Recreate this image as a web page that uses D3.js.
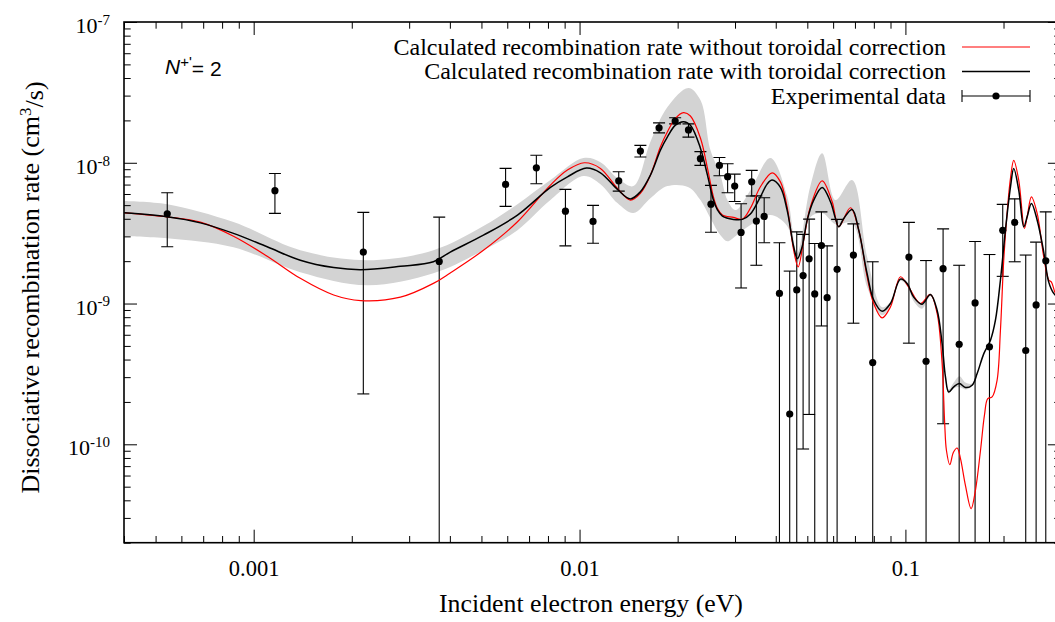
<!DOCTYPE html>
<html>
<head>
<meta charset="utf-8">
<script src="https://cdn.jsdelivr.net/npm/d3@7"></script>
<style>
  html, body { margin: 0; padding: 0; background: #fff; }
  svg text { font-family: "Liberation Serif", "Times New Roman", serif; fill: #000; }
</style>
</head>
<body>
<svg id="chart" width="1055" height="622"></svg>
<script>
// ---------------- data ----------------
// Calculated rate with toroidal correction (black)
const blackE = [0.000401, 0.000543, 0.000686, 0.000867, 0.0011, 0.00139, 0.00176, 0.00213, 0.00282, 0.00356,
  0.00401, 0.00507, 0.00645, 0.00814, 0.00918, 0.0105, 0.01159, 0.01307, 0.01432, 0.01537,
  0.0165, 0.01771, 0.01861, 0.01969, 0.02084, 0.02189, 0.02349, 0.02469, 0.02575, 0.02649,
  0.02744, 0.02966, 0.0316, 0.03344, 0.03589, 0.03764, 0.03899, 0.04134, 0.04335, 0.04541,
  0.04662, 0.0482, 0.04994, 0.05232, 0.05553, 0.05888, 0.061, 0.06243, 0.06468, 0.06862,
  0.0719, 0.07629, 0.07993, 0.08482, 0.08995, 0.09654, 0.1012, 0.106, 0.1125, 0.1193,
  0.1251, 0.1296, 0.1327, 0.1358, 0.1407, 0.1465, 0.1528, 0.1602, 0.166, 0.174,
  0.1824, 0.1889, 0.1957, 0.2027, 0.2101, 0.215, 0.2227, 0.2308, 0.2364, 0.2436,
  0.2537, 0.2657, 0.2753, 0.2852, 0.3];
const blackRate = [4.41e-9, 4.13e-9, 3.74e-9, 3.15e-9, 2.53e-9, 2.03e-9, 1.80e-9, 1.74e-9, 1.84e-9, 1.98e-9,
  2.32e-9, 3.06e-9, 4.25e-9, 6.68e-9, 7.95e-9, 9.17e-9, 8.49e-9, 6.47e-9, 5.54e-9, 6.22e-9,
  8.17e-9, 1.23e-8, 1.53e-8, 1.85e-8, 1.96e-8, 1.85e-8, 1.27e-8, 8.17e-9, 5.43e-9, 4.63e-9,
  4.18e-9, 3.96e-9, 3.96e-9, 4.32e-9, 5.73e-9, 7.05e-9, 7.53e-9, 6.68e-9, 4.61e-9, 2.53e-9,
  2.09e-9, 2.53e-9, 3.91e-9, 5.43e-9, 6.68e-9, 5.28e-9, 4.02e-9, 3.51e-9, 4.02e-9, 4.66e-9,
  3.32e-9, 1.63e-9, 1.06e-9, 8.82e-10, 1.00e-9, 1.49e-9, 1.39e-9, 1.11e-9, 9.89e-10, 1.16e-9,
  8.97e-10, 5.20e-10, 3.01e-10, 2.35e-10, 2.56e-10, 2.70e-10, 2.53e-10, 2.63e-10, 3.18e-10, 4.41e-10,
  5.49e-10, 7.61e-10, 1.47e-9, 3.32e-9, 6.75e-9, 9.12e-9, 6.39e-9, 3.51e-9, 4.13e-9, 5.14e-9,
  3.91e-9, 2.33e-9, 1.42e-9, 1.18e-9, 1.06e-9];

// Calculated rate without toroidal correction (red)
const redE = [0.000401, 0.000543, 0.000686, 0.000867, 0.0011, 0.00139, 0.00176, 0.00213, 0.00282, 0.00356,
  0.00401, 0.00507, 0.00645, 0.00814, 0.00918, 0.01035, 0.01159, 0.01307, 0.01432, 0.01537,
  0.0165, 0.01771, 0.01861, 0.01969, 0.02084, 0.02189, 0.02349, 0.02469, 0.02575, 0.02649,
  0.02744, 0.02966, 0.0316, 0.03344, 0.03589, 0.03899, 0.04134, 0.04335, 0.04541, 0.04686,
  0.04874, 0.05109, 0.05553, 0.0596, 0.06243, 0.0678, 0.0719, 0.07629, 0.07993, 0.08482,
  0.08995, 0.09654, 0.1023, 0.1112, 0.1193, 0.1251, 0.1296, 0.132, 0.1336, 0.1368,
  0.1404, 0.1441, 0.1475, 0.1528, 0.1591, 0.164, 0.17, 0.1748, 0.1789, 0.1845,
  0.1911, 0.1957, 0.2003, 0.2051, 0.2101, 0.215, 0.2227, 0.2319, 0.2368, 0.2436,
  0.2537, 0.2657, 0.2753, 0.2806, 0.2886, 0.3];
const redRate = [4.41e-9, 4.13e-9, 3.79e-9, 3.01e-9, 2.17e-9, 1.51e-9, 1.15e-9, 1.05e-9, 1.11e-9, 1.39e-9,
  1.65e-9, 2.39e-9, 3.81e-9, 6.94e-9, 8.87e-9, 1.00e-8, 9.12e-9, 6.57e-9, 5.43e-9, 6.06e-9,
  8.17e-9, 1.30e-8, 1.66e-8, 2.07e-8, 2.27e-8, 2.15e-8, 1.50e-8, 9.17e-9, 5.73e-9, 4.74e-9,
  4.25e-9, 4.09e-9, 3.98e-9, 4.76e-9, 6.75e-9, 8.49e-9, 7.32e-9, 4.86e-9, 2.39e-9, 1.82e-9,
  2.82e-9, 4.86e-9, 7.44e-9, 5.28e-9, 3.51e-9, 4.79e-9, 3.32e-9, 1.55e-9, 1.00e-9, 7.91e-10,
  9.46e-10, 1.55e-9, 1.31e-9, 1.00e-9, 1.16e-9, 8.50e-10, 3.75e-10, 1.40e-10, 9.07e-11, 7.17e-11,
  8.77e-11, 9.41e-11, 7.95e-11, 5.11e-11, 3.49e-11, 4.71e-11, 9.07e-11, 1.61e-10, 2.11e-10, 2.17e-10,
  2.85e-10, 6.46e-10, 2.03e-9, 4.37e-9, 7.78e-9, 1.04e-8, 7.53e-9, 3.42e-9, 4.25e-9, 5.73e-9,
  4.37e-9, 2.15e-9, 1.47e-9, 1.42e-9, 1.18e-9, 1.06e-9];

// Uncertainty band of the corrected calculation (grey)
const bandE = [0.000401, 0.000543, 0.000867, 0.00139, 0.00223, 0.00356, 0.00507, 0.00645, 0.00814, 0.01028,
  0.01159, 0.01307, 0.01463, 0.0165, 0.01861, 0.02159, 0.02349, 0.02521, 0.02706, 0.02843,
  0.03008, 0.03344, 0.03852, 0.04335, 0.04651, 0.05109, 0.05553, 0.061, 0.06862, 0.07629,
  0.08482, 0.08995, 0.09654, 0.1012, 0.106, 0.1125, 0.1193, 0.1251, 0.1296, 0.1327,
  0.1358, 0.1407, 0.1465, 0.1528, 0.1602, 0.166];
const bandHigh = [5.36e-9, 5.08e-9, 3.79e-9, 2.39e-9, 2.03e-9, 2.39e-9, 3.55e-9, 5.08e-9, 7.53e-9, 1.08e-8,
  1.01e-8, 7.78e-9, 6.83e-9, 1.41e-8, 2.49e-8, 3.40e-8, 2.79e-8, 1.23e-8, 8.17e-9, 5.43e-9,
  4.61e-9, 6.39e-9, 1.08e-8, 5.80e-9, 2.28e-9, 6.83e-9, 1.17e-8, 5.43e-9, 7.53e-9, 2.14e-9,
  9.42e-10, 1.03e-9, 1.52e-9, 1.41e-9, 1.13e-9, 1.00e-9, 1.17e-9, 9.00e-10, 5.20e-10, 3.05e-10,
  2.45e-10, 2.75e-10, 3.05e-10, 2.75e-10, 2.70e-10, 3.18e-10];
const bandLow = [3.01e-9, 2.91e-9, 2.51e-9, 1.67e-9, 1.35e-9, 1.64e-9, 2.39e-9, 3.32e-9, 5.43e-9, 8.04e-9,
  7.05e-9, 5.17e-9, 4.39e-9, 5.60e-9, 6.83e-9, 6.71e-9, 5.43e-9, 4.04e-9, 3.06e-9, 2.77e-9,
  3.01e-9, 3.61e-9, 4.25e-9, 3.55e-9, 1.94e-9, 4.11e-9, 4.39e-9, 3.66e-9, 3.72e-9, 1.31e-9,
  8.26e-10, 9.70e-10, 1.45e-9, 1.33e-9, 1.04e-9, 9.20e-10, 1.13e-9, 8.90e-10, 5.20e-10, 2.97e-10,
  2.30e-10, 2.50e-10, 2.55e-10, 2.45e-10, 2.58e-10, 3.18e-10];

// Experimental data: energy, rate, lower and upper error bounds (0 = bound below the axis)
const expE = [0.000543, 0.001162, 0.00217, 0.00371, 0.00593, 0.00737, 0.00905, 0.0110, 0.01319, 0.01537,
  0.01754, 0.01965, 0.02159, 0.02349, 0.02531, 0.02687, 0.02847, 0.02993, 0.03131, 0.03375,
  0.03488, 0.03686, 0.04106, 0.04415, 0.0464, 0.04853, 0.05064, 0.05269, 0.05524, 0.05752,
  0.06171, 0.06925, 0.07937, 0.1025, 0.1157, 0.1305, 0.1462, 0.1636, 0.1811, 0.1989,
  0.2165, 0.234, 0.2518, 0.2696];
const expRate = [4.34e-9, 6.34e-9, 2.32e-9, 1.99e-9, 7.02e-9, 9.21e-9, 4.53e-9, 3.83e-9, 7.44e-9, 1.21e-8,
  1.77e-8, 1.98e-8, 1.71e-8, 1.07e-8, 5.08e-9, 9.58e-9, 7.97e-9, 6.83e-9, 3.20e-9, 7.32e-9,
  3.85e-9, 4.16e-9, 1.18e-9, 1.64e-10, 1.25e-9, 1.58e-9, 2.08e-9, 1.17e-9, 2.58e-9, 1.10e-9,
  1.75e-9, 2.21e-9, 3.81e-10, 2.14e-9, 3.89e-10, 1.77e-9, 5.14e-10, 1.01e-9, 4.93e-10, 3.31e-9,
  3.77e-9, 4.64e-10, 9.78e-10, 2.01e-9];
const expLow = [2.53e-9, 4.37e-9, 2.28e-10, 0, 4.90e-9, 7.09e-9, 2.57e-9, 2.68e-9, 6.29e-9, 1.10e-8,
  1.63e-8, 1.89e-8, 1.52e-8, 9.58e-9, 3.21e-9, 8.08e-9, 6.12e-9, 5.31e-9, 1.29e-9, 5.80e-9,
  1.87e-9, 2.70e-9, 0, 0, 0, 9.26e-11, 1.63e-10, 0, 6.93e-10, 0,
  0, 7.25e-10, 0, 5.23e-10, 0, 1.40e-10, 0, 0, 0, 1.56e-9,
  1.98e-9, 0, 0, 0];
const expHigh = [6.12e-9, 8.40e-9, 4.44e-9, 4.11e-9, 9.12e-9, 1.13e-8, 6.47e-9, 4.98e-9, 8.63e-9, 1.33e-8,
  1.92e-8, 2.09e-8, 1.89e-8, 1.20e-8, 6.91e-9, 1.09e-8, 9.83e-9, 8.31e-9, 5.11e-9, 8.83e-9,
  5.82e-9, 5.64e-9, 2.70e-9, 1.70e-9, 3.23e-9, 3.10e-9, 3.98e-9, 2.67e-9, 4.48e-9, 2.57e-9,
  3.96e-9, 3.68e-9, 1.98e-9, 3.77e-9, 2.02e-9, 3.39e-9, 1.87e-9, 2.76e-9, 2.23e-9, 5.06e-9,
  5.54e-9, 2.21e-9, 2.73e-9, 4.48e-9];

// Axis ticks and labels
const xTickValues = [0.001, 0.01, 0.1];
const xTickLabels = ["0.001", "0.01", "0.1"];
const yTickValues = [1e-10, 1e-9, 1e-8, 1e-7];
const yTickExponents = ["-10", "-9", "-8", "-7"];

const legendLabels = [
  "Calculated recombination rate without toroidal correction",
  "Calculated recombination rate with toroidal correction",
  "Experimental data"
];

// ---------------- layout ----------------
const svg = d3.select("#chart");
const plotL = 124, plotR = 1060.9, plotT = 22, plotB = 542.7;

const x = d3.scaleLog().domain([4e-4, 0.3]).range([plotL, plotR]);
const y = d3.scaleLog().domain([2e-11, 1e-7]).range([plotB, plotT]);

svg.append("defs").append("clipPath").attr("id", "plotClip")
  .append("rect").attr("x", plotL).attr("y", plotT)
  .attr("width", plotR - plotL).attr("height", plotB - plotT);

const plot = svg.append("g").attr("clip-path", "url(#plotClip)");

// grey band
const bandData = bandE.map((e, i) => ({ e, lo: bandLow[i], hi: bandHigh[i] }));
plot.append("path")
  .datum(bandData)
  .attr("fill", "#d3d3d3")
  .attr("stroke", "none")
  .attr("d", d3.area()
    .x(d => x(d.e))
    .y0(d => y(d.lo))
    .y1(d => y(d.hi))
    .curve(d3.curveCatmullRom.alpha(0.5)));

// experimental error bars
const expData = expE.map((e, i) => ({ e, r: expRate[i], lo: expLow[i], hi: expHigh[i] }));
const capHalf = 6;
const eg = plot.append("g").attr("stroke", "#000").attr("stroke-width", 1.1);
expData.forEach(d => {
  const cx = x(d.e);
  const yHi = y(d.hi);
  const yLo = d.lo > 0 ? y(d.lo) : plotB + 2;
  eg.append("line").attr("x1", cx).attr("x2", cx).attr("y1", yHi).attr("y2", yLo);
  eg.append("line").attr("x1", cx - capHalf).attr("x2", cx + capHalf).attr("y1", yHi).attr("y2", yHi);
  if (d.lo > 0) {
    eg.append("line").attr("x1", cx - capHalf).attr("x2", cx + capHalf).attr("y1", yLo).attr("y2", yLo);
  }
});

// curves
const lineGen = d3.line().x(d => x(d[0])).y(d => y(d[1])).curve(d3.curveCatmullRom.alpha(0.5));
plot.append("path")
  .datum(redE.map((e, i) => [e, redRate[i]]))
  .attr("fill", "none").attr("stroke", "#ff0000").attr("stroke-width", 1.2)
  .attr("d", lineGen);
plot.append("path")
  .datum(blackE.map((e, i) => [e, blackRate[i]]))
  .attr("fill", "none").attr("stroke", "#000").attr("stroke-width", 1.5)
  .attr("d", lineGen);

// experimental points
plot.append("g").selectAll("circle").data(expData).join("circle")
  .attr("cx", d => x(d.e)).attr("cy", d => y(d.r)).attr("r", 3.6).attr("fill", "#000");

// ---------------- axes ----------------
const majorLen = 13, minorLen = 6.7;
const xMinor = x.ticks().filter(v => !xTickValues.some(m => Math.abs(m - v) / m < 1e-6));
const yMinor = y.ticks().filter(v => !yTickValues.some(m => Math.abs(m - v) / m < 1e-6));

function styleAxis(g) {
  g.select(".domain").remove();
  g.selectAll(".tick line").attr("stroke", "#000").attr("stroke-width", 1);
}

// bottom
svg.append("g").attr("transform", `translate(0,${plotB})`)
  .call(d3.axisBottom(x).tickValues(xTickValues).tickSizeInner(-majorLen).tickSizeOuter(0)
    .tickPadding(17).tickFormat((d, i) => xTickLabels[i]))
  .call(styleAxis)
  .call(g => g.selectAll("text").attr("font-size", 22.5).attr("font-family", "Liberation Serif, serif"));
svg.append("g").attr("transform", `translate(0,${plotB})`)
  .call(d3.axisBottom(x).tickValues(xMinor).tickSizeInner(-minorLen).tickSizeOuter(0).tickFormat(""))
  .call(styleAxis);
// top
svg.append("g").attr("transform", `translate(0,${plotT})`)
  .call(d3.axisTop(x).tickValues(xTickValues).tickSizeInner(-majorLen).tickSizeOuter(0).tickFormat(""))
  .call(styleAxis);
svg.append("g").attr("transform", `translate(0,${plotT})`)
  .call(d3.axisTop(x).tickValues(xMinor).tickSizeInner(-minorLen).tickSizeOuter(0).tickFormat(""))
  .call(styleAxis);
// left
svg.append("g").attr("transform", `translate(${plotL},0)`)
  .call(d3.axisLeft(y).tickValues(yTickValues).tickSizeInner(-majorLen).tickSizeOuter(0)
    .tickPadding(14).tickFormat(""))
  .call(styleAxis)
  .call(g => g.selectAll(".tick text").each(function (d, i) {
    const t = d3.select(this).attr("font-size", 22).attr("dy", "0.48em")
      .attr("font-family", "Liberation Serif, serif");
    t.append("tspan").text("10");
    t.append("tspan").attr("dy", "-0.55em").attr("font-size", 15).text(yTickExponents[i]);
  }));
svg.append("g").attr("transform", `translate(${plotL},0)`)
  .call(d3.axisLeft(y).tickValues(yMinor).tickSizeInner(-minorLen).tickSizeOuter(0).tickFormat(""))
  .call(styleAxis);
// right
svg.append("g").attr("transform", `translate(${plotR},0)`)
  .call(d3.axisRight(y).tickValues(yTickValues).tickSizeInner(-majorLen).tickSizeOuter(0).tickFormat(""))
  .call(styleAxis);
svg.append("g").attr("transform", `translate(${plotR},0)`)
  .call(d3.axisRight(y).tickValues(yMinor).tickSizeInner(-minorLen).tickSizeOuter(0).tickFormat(""))
  .call(styleAxis);

// frame
svg.append("rect").attr("x", plotL).attr("y", plotT)
  .attr("width", plotR - plotL).attr("height", plotB - plotT)
  .attr("fill", "none").attr("stroke", "#000").attr("stroke-width", 1.6);

// axis titles
svg.append("text").attr("x", 591).attr("y", 611.5).attr("text-anchor", "middle")
  .attr("font-size", 25.8).text("Incident electron energy (eV)");
const yt = svg.append("text").attr("transform", "translate(38.5,287.5) rotate(-90)")
  .attr("text-anchor", "middle").attr("font-size", 26);
yt.append("tspan").text("Dissociative recombination rate (cm");
yt.append("tspan").attr("dy", "-0.45em").attr("font-size", 17).text("3");
yt.append("tspan").attr("dy", "0.45em").text("/s)");

// N+' = 2 annotation
const nt = svg.append("text").attr("x", 165).attr("y", 73.5)
  .style("font-family", "'Liberation Sans', Arial, sans-serif").attr("font-size", 21);
nt.append("tspan").attr("font-style", "italic").text("N");
nt.append("tspan").attr("dy", "-0.42em").attr("font-size", 15).text("+'");
nt.append("tspan").attr("dy", "0.42em").text("= 2");

// ---------------- legend ----------------
const legendRows = [47, 71.5, 96];
const lx0 = 962, lx1 = 1030, textRight = 946;
const lg = svg.append("g");
legendLabels.forEach((lab, i) => {
  lg.append("text").attr("x", textRight).attr("y", legendRows[i] + 7.5)
    .attr("text-anchor", "end").attr("font-size", 24).text(lab);
});
lg.append("line").attr("x1", lx0).attr("x2", lx1).attr("y1", legendRows[0]).attr("y2", legendRows[0])
  .attr("stroke", "#ff0000").attr("stroke-width", 1.2);
lg.append("line").attr("x1", lx0).attr("x2", lx1).attr("y1", legendRows[1]).attr("y2", legendRows[1])
  .attr("stroke", "#000").attr("stroke-width", 1.5);
const ly = legendRows[2];
lg.append("line").attr("x1", lx0).attr("x2", lx1).attr("y1", ly).attr("y2", ly)
  .attr("stroke", "#000").attr("stroke-width", 1.1);
[lx0, lx1].forEach(cx => lg.append("line").attr("x1", cx).attr("x2", cx)
  .attr("y1", ly - 6).attr("y2", ly + 6).attr("stroke", "#000").attr("stroke-width", 1.1));
lg.append("circle").attr("cx", (lx0 + lx1) / 2).attr("cy", ly).attr("r", 3.6).attr("fill", "#000");
</script>
</body>
</html>
